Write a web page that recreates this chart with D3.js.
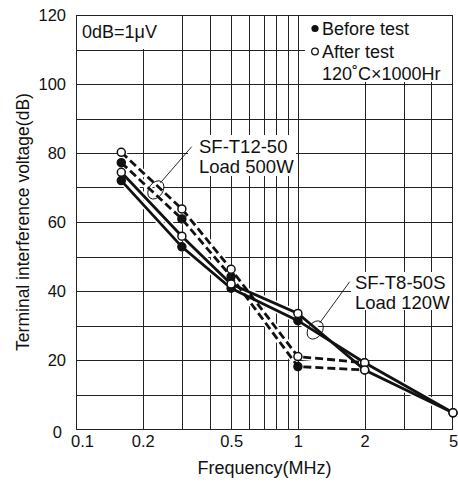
<!DOCTYPE html>
<html>
<head>
<meta charset="utf-8">
<script src="https://cdn.jsdelivr.net/npm/d3@7"></script>
<style>
  body { margin: 0; background: #fff; }
  text { font-family: "Liberation Sans", Arial, Helvetica, sans-serif; fill: #111; }
</style>
</head>
<body>
<script>
var width = 458,
    height = 483;

var margin = {top: 15, right: 5, bottom: 54, left: 76};

// data (MHz, dB)
var freqsT12 = [0.16, 0.3, 0.5, 1, 2];
var t12Before = [77.2, 60.9, 44.2, 18.1, 17.1];
var t12After = [80.2, 63.8, 46.3, 21.0, 19.2];

var freqsT8 = [0.16, 0.3, 0.5, 1, 2, 5];
var t8Before = [72.0, 52.8, 40.8, 31.4, 19.2, 4.7];
var t8After = [74.4, 55.9, 42.0, 33.5, 17.1, 4.7];

var xGrid = [0.2, 0.3, 0.4, 0.5, 0.6, 0.7, 0.8, 0.9, 1, 2, 3, 4];
var yGrid = [10, 20, 30, 40, 50, 60, 70, 80, 90, 100, 110];
var xTickLabels = [0.1, 0.2, 0.5, 1, 2, 5];
var yTickLabels = [0, 20, 40, 60, 80, 100, 120];

var series = [
  {freqs: freqsT12, values: t12Before, dashed: true, open: false},
  {freqs: freqsT12, values: t12After, dashed: true, open: true},
  {freqs: freqsT8, values: t8Before, dashed: false, open: false},
  {freqs: freqsT8, values: t8After, dashed: false, open: true}
];

var svg = d3.select("body").append("svg")
  .attr("width", width)
  .attr("height", height);

var xScale = d3.scaleLog()
  .domain([0.1, 5])
  .range([margin.left, width - margin.right]);
var yScale = d3.scaleLinear()
  .domain([0, 120])
  .range([height - margin.bottom, margin.top]);

// grid
var grid = svg.append("g").attr("stroke", "#222").attr("stroke-width", 1);
grid.selectAll(".vx").data(xGrid).enter().append("line")
  .attr("x1", function(d){ return Math.round(xScale(d)) + 0.5; })
  .attr("x2", function(d){ return Math.round(xScale(d)) + 0.5; })
  .attr("y1", yScale(0))
  .attr("y2", yScale(120));
grid.selectAll(".hy").data(yGrid).enter().append("line")
  .attr("y1", function(d){ return Math.round(yScale(d)) + 0.5; })
  .attr("y2", function(d){ return Math.round(yScale(d)) + 0.5; })
  .attr("x1", xScale(0.1))
  .attr("x2", xScale(5));

// white boxes behind texts
var boxes = [[77, 16, 93, 33], [305, 16, 147, 66], [188, 135, 108, 41], [351, 272, 101, 38]];
svg.selectAll(".box").data(boxes).enter().append("rect")
  .attr("x", function(d){ return d[0]; })
  .attr("y", function(d){ return d[1]; })
  .attr("width", function(d){ return d[2]; })
  .attr("height", function(d){ return d[3]; })
  .attr("fill", "#fff");

// frame
svg.append("rect")
  .attr("x", xScale(0.1) + 0.5)
  .attr("y", yScale(120) + 0.5)
  .attr("width", xScale(5) - xScale(0.1) - 1)
  .attr("height", yScale(0) - yScale(120))
  .attr("fill", "none")
  .attr("stroke", "#222")
  .attr("stroke-width", 1);

// axes
var xAxis = svg.append("g")
  .attr("transform", "translate(0," + yScale(0) + ")")
  .call(d3.axisBottom(xScale).tickValues(xTickLabels).tickSize(0).tickPadding(6)
    .tickFormat(function(d){ return String(d); }));
xAxis.select(".domain").remove();
xAxis.selectAll("text")
  .attr("font-size", 16.5)
  .attr("font-family", null)
  .attr("dx", function(d){ return d == 0.1 ? 6 : 0; });

var yAxis = svg.append("g")
  .attr("transform", "translate(" + xScale(0.1) + ",0)")
  .call(d3.axisLeft(yScale).tickValues(yTickLabels).tickSize(0).tickPadding(10));
yAxis.select(".domain").remove();
yAxis.selectAll("text")
  .attr("font-size", 16.5)
  .attr("font-family", null)
  .attr("dx", function(d){ return d == 0 ? -4 : 0; })
  .attr("y", function(d){ return d == 0 ? 3 : 0; });

// axis titles
svg.append("text")
  .attr("x", (xScale(0.1) + xScale(5)) / 2)
  .attr("y", 474)
  .attr("text-anchor", "middle")
  .attr("font-size", 18)
  .text("Frequency(MHz)");
svg.append("text")
  .attr("transform", "translate(23," + yScale(60) + ") rotate(-90)")
  .attr("text-anchor", "middle")
  .attr("dominant-baseline", "central")
  .attr("font-size", 17.5)
  .text("Terminal interference voltage(dB)");

// lines
var line = d3.line()
  .x(function(d){ return xScale(d[0]); })
  .y(function(d){ return yScale(d[1]); });

function pts(s) {
  return s.freqs.map(function(f, i){ return [f, s.values[i]]; });
}

svg.selectAll(".halo").data(series).enter().append("path")
  .attr("d", function(s){ return line(pts(s)); })
  .attr("fill", "none")
  .attr("stroke", "#fff")
  .attr("stroke-width", 6);
svg.selectAll(".series").data(series).enter().append("path")
  .attr("d", function(s){ return line(pts(s)); })
  .attr("fill", "none")
  .attr("stroke", "#111")
  .attr("stroke-width", 2.8)
  .attr("stroke-dasharray", function(s){ return s.dashed ? "8,4" : null; });

// markers: filled first, open on top
var ordered = series.filter(function(s){ return !s.open; }).concat(series.filter(function(s){ return s.open; }));
ordered.forEach(function(s){
  svg.append("g").selectAll("circle").data(pts(s)).enter().append("circle")
    .attr("cx", function(d){ return xScale(d[0]); })
    .attr("cy", function(d){ return yScale(d[1]); })
    .attr("r", 4)
    .attr("fill", s.open ? "#fff" : "#111")
    .attr("stroke", "#111")
    .attr("stroke-width", 1.5);
});

// annotations
var annotations = [
  {f: 0.229, v: 69.3, lines: ["SF-T12-50", "Load 500W"], tx: 199, ty: 153, lx: 191.7, ly: 146.7},
  {f: 1.197, v: 28.7, lines: ["SF-T8-50S", "Load 120W"], tx: 355, ty: 288.5, lx: 349.7, ly: 281.7}
];
annotations.forEach(function(a){
  var cx = xScale(a.f), cy = yScale(a.v);
  svg.append("ellipse")
    .attr("transform", "translate(" + cx + "," + cy + ") rotate(-55)")
    .attr("rx", 10)
    .attr("ry", 7)
    .attr("fill", "none")
    .attr("stroke", "#111")
    .attr("stroke-width", 0.9);
  svg.append("line")
    .attr("x1", cx + 4.5).attr("y1", cy - 7)
    .attr("x2", a.lx).attr("y2", a.ly)
    .attr("stroke", "#111")
    .attr("stroke-width", 0.9);
  a.lines.forEach(function(t, i){
    svg.append("text")
      .attr("x", a.tx)
      .attr("y", a.ty + i * 20)
      .attr("font-size", 18.5)
      .text(t);
  });
});

// note and legend
svg.append("text")
  .attr("x", 82).attr("y", 38)
  .attr("font-size", 18)
  .text("0dB=1\u03bcV");

svg.append("circle").attr("cx", 315).attr("cy", 28.5).attr("r", 3.6).attr("fill", "#111");
svg.append("circle").attr("cx", 315).attr("cy", 51.5).attr("r", 3.3)
  .attr("fill", "#fff").attr("stroke", "#111").attr("stroke-width", 1.3);
var legendText = ["Before test", "After test", "120\u02daC\u00d71000Hr"];
svg.selectAll(".leg").data(legendText).enter().append("text")
  .attr("x", 322)
  .attr("y", function(d, i){ return 35 + i * 22.5; })
  .attr("font-size", 18)
  .text(function(d){ return d; });
</script>
</body>
</html>
